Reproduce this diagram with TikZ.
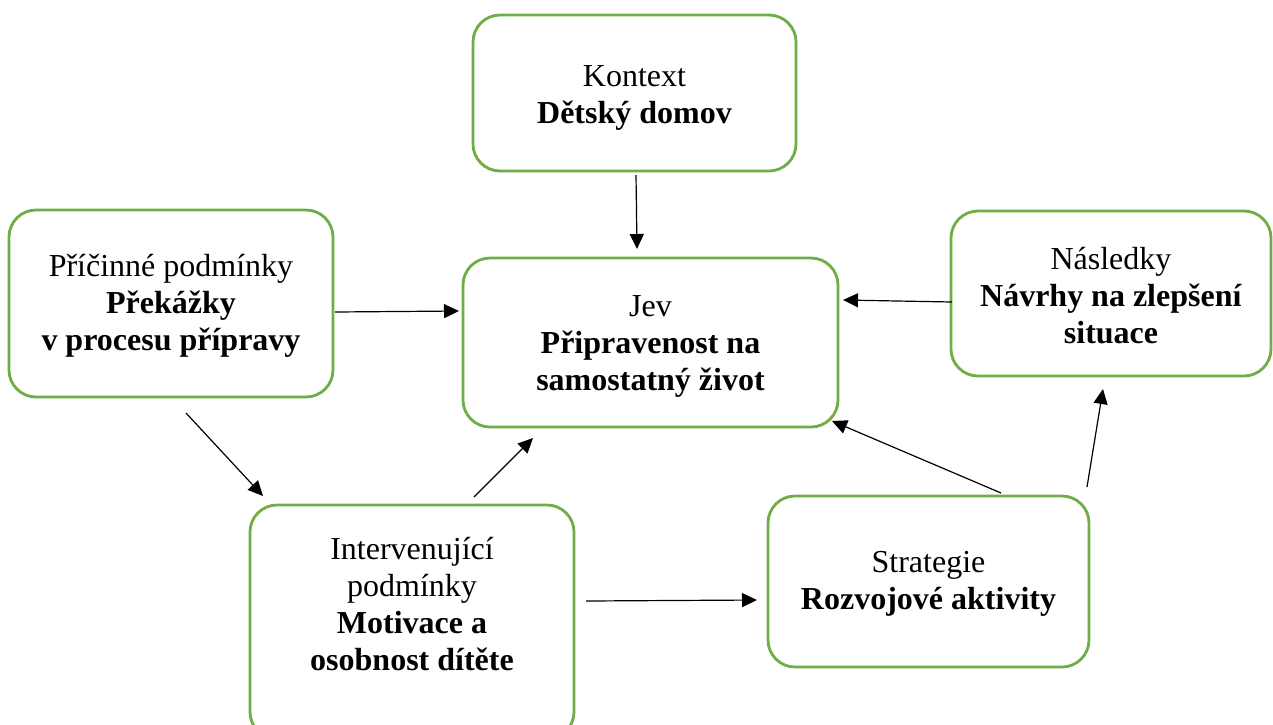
\documentclass[tikz,border=0pt]{standalone}
\usepackage{fontspec}
\setmainfont{Liberation Serif}
\usetikzlibrary{arrows.meta}
\definecolor{boxgreen}{RGB}{112,173,71}
\begin{document}
\begin{tikzpicture}[x=1pt,y=-1pt,
  box/.style={draw=boxgreen, line width=2.8pt, rounded corners=27pt, fill=white, inner sep=0pt},
  txt/.style={align=center, font=\fontsize{32}{37}\selectfont, inner sep=0pt},
  arr/.style={line width=1.2pt, -{Triangle[length=15pt,width=14pt]}}
]
\useasboundingbox (0,0) rectangle (1273,724);
\begin{scope}
\clip (0,0) rectangle (1273,724);
% boxes
\node[box, minimum width=323pt, minimum height=156pt] (kontext) at (634.5,93) {};
\node[box, minimum width=375pt, minimum height=169pt] (jev) at (650.5,342.5) {};
\node[box, minimum width=324pt, minimum height=187pt] (pricinne) at (171,303.5) {};
\node[box, minimum width=320pt, minimum height=165pt] (nasledky) at (1111,293.5) {};
\node[box, minimum width=324pt, minimum height=234pt] (interv) at (412,622) {};
\node[box, minimum width=321pt, minimum height=171pt] (strategie) at (928.5,581.5) {};
\end{scope}
% texts
\node[txt] (tkontext) at (634.5,98) {Kontext\\\textbf{Dětský domov}};
\node[txt] (tjev) at (650.5,346) {Jev\\\textbf{Připravenost na}\\\textbf{samostatný život}};
\node[txt] (tpricinne) at (171,306) {Příčinné podmínky\\\textbf{Překážky}\\\textbf{v procesu přípravy}};
\node[txt] (tnasledky) at (1111,296) {Následky\\\textbf{Návrhy na zlepšení}\\\textbf{situace}};
\node[txt] (tinterv) at (412,604) {Intervenující\\podmínky\\\textbf{Motivace a}\\\textbf{osobnost dítěte}};
\node[txt] (tstrategie) at (928.5,584) {Strategie\\\textbf{Rozvojové aktivity}};
% arrow end points
\coordinate (a1s) at (636,175);
\coordinate (a1e) at (637,249);
\coordinate (a2s) at (335,312);
\coordinate (a2e) at (459,311);
\coordinate (a3s) at (952,302);
\coordinate (a3e) at (843,300);
\coordinate (a4s) at (186,413);
\coordinate (a4e) at (263,496);
\coordinate (a5s) at (474,497);
\coordinate (a5e) at (533,438);
\coordinate (a6s) at (586,601);
\coordinate (a6e) at (757,600);
\coordinate (a7s) at (1001,493);
\coordinate (a7e) at (832,421);
\coordinate (a8s) at (1087,487);
\coordinate (a8e) at (1103,389);
% connectors
\draw[arr] (a1s) -- (a1e);
\draw[arr] (a2s) -- (a2e);
\draw[arr] (a3s) -- (a3e);
\draw[arr] (a4s) -- (a4e);
\draw[arr] (a5s) -- (a5e);
\draw[arr] (a6s) -- (a6e);
\draw[arr] (a7s) -- (a7e);
\draw[arr] (a8s) -- (a8e);
\end{tikzpicture}
\end{document}
